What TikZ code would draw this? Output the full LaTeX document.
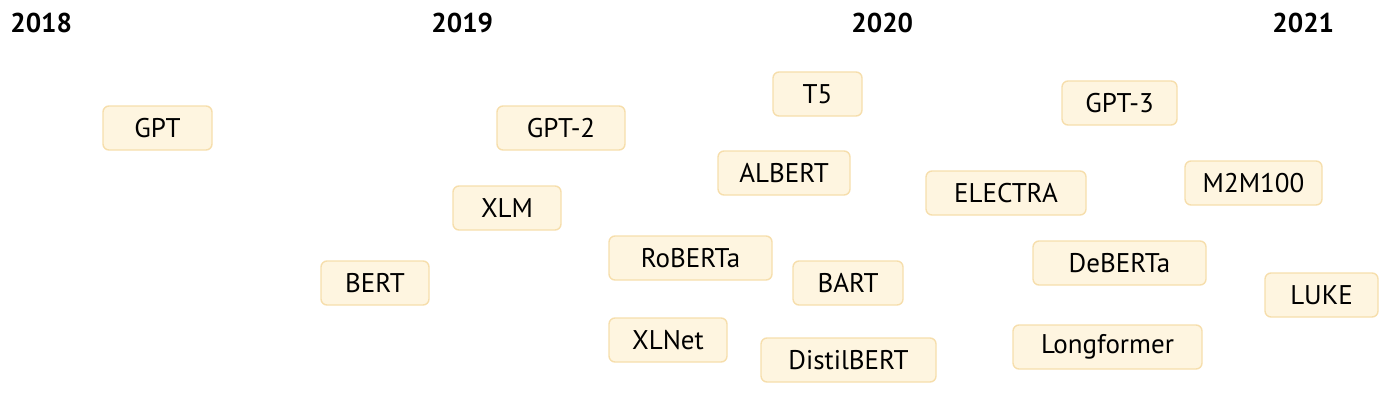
\documentclass[tikz,border=0pt]{standalone}
\usepackage{fontspec}
\setmainfont{PT Sans}
\definecolor{boxfill}{RGB}{254,245,224}
\definecolor{boxline}{RGB}{246,222,172}

\begin{document}
\begin{tikzpicture}[x=0.5pt, y=-0.5pt,
    model_style/.style = {draw=boxline, fill=boxfill, rounded corners=3pt, line width=0.7pt,
        minimum height=22pt, inner sep=0pt, font=\fontsize{13.5}{15}\selectfont},
    year_style/.style = {anchor=west, inner sep=0pt, font=\fontsize{13.6}{16}\selectfont\bfseries}]

\useasboundingbox (0,0) rectangle (1400,401);

% years
\node[year_style] (y2018) at (10,23) {2018};
\node[year_style] (y2019) at (431,23) {2019};
\node[year_style] (y2020) at (851,23) {2020};
\node[year_style] (y2021) at (1272,23) {2021};

% 2018
\node[model_style, minimum width=54.5pt] (gpt) at (157.5,128) {GPT};
\node[model_style, minimum width=54pt] (bert) at (375,283) {BERT};

% 2019
\node[model_style, minimum width=64pt] (gpt2) at (561,128) {GPT-2};
\node[model_style, minimum width=54pt] (xlm) at (507,208) {XLM};
\node[model_style, minimum width=81.5pt] (roberta) at (690.5,258) {RoBERTa};
\node[model_style, minimum width=59pt] (xlnet) at (668,340) {XLNet};
\node[model_style, minimum width=44.5pt] (t5) at (817.5,94) {T5};
\node[model_style, minimum width=66pt] (albert) at (784,173) {ALBERT};
\node[model_style, minimum width=55pt] (bart) at (848,283) {BART};
\node[model_style, minimum width=87.5pt] (distilbert) at (848.5,360) {DistilBERT};

% 2020
\node[model_style, minimum width=57.5pt] (gpt3) at (1119.5,103) {GPT-3};
\node[model_style, minimum width=80pt] (electra) at (1006,193) {ELECTRA};
\node[model_style, minimum width=68.5pt] (m2m100) at (1253.5,183) {M2M100};
\node[model_style, minimum width=86.5pt] (deberta) at (1119.5,263) {DeBERTa};
\node[model_style, minimum width=56.5pt] (luke) at (1321.5,295) {LUKE};
\node[model_style, minimum width=94.5pt] (longformer) at (1107.5,347) {Longformer};

\end{tikzpicture}
\end{document}
